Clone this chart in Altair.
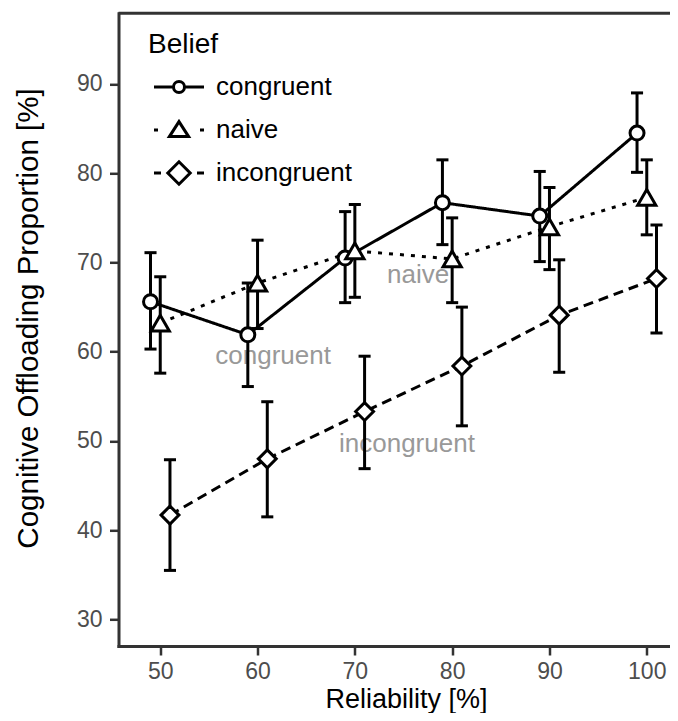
import altair as alt
import pandas as pd

beliefs = ["congruent", "naive", "incongruent"]
reliability = [50, 60, 70, 80, 90, 100]
dodge = [-1, 0, 1]

congruent_mean = [65.6, 61.9, 70.5, 76.7, 75.2, 84.5]
congruent_lo = [60.3, 56.1, 65.5, 72.0, 70.1, 80.1]
congruent_hi = [71.1, 67.7, 75.7, 81.5, 80.2, 89.0]

naive_mean = [63.2, 67.7, 71.3, 70.4, 74.0, 77.3]
naive_lo = [57.6, 62.6, 66.1, 65.5, 69.2, 73.1]
naive_hi = [68.4, 72.5, 76.5, 75.0, 78.4, 81.5]

incongruent_mean = [41.7, 48.0, 53.3, 58.4, 64.1, 68.2]
incongruent_lo = [35.5, 41.5, 46.9, 51.7, 57.7, 62.1]
incongruent_hi = [47.9, 54.4, 59.5, 65.0, 70.3, 74.2]

label_text = ["congruent", "naive", "incongruent"]
label_x = [61.6, 76.5, 75.35]
label_y = [58.6, 67.7, 48.8]

y_ticks = [30, 40, 50, 60, 70, 80, 90]
y_top = 97.92

rows = []
for b, d, ms, los, his in zip(
    beliefs, dodge,
    [congruent_mean, naive_mean, incongruent_mean],
    [congruent_lo, naive_lo, incongruent_lo],
    [congruent_hi, naive_hi, incongruent_hi],
):
    for r, m, lo, hi in zip(reliability, ms, los, his):
        rows.append({"belief": b, "x": r + d, "mean": m, "lo": lo, "hi": hi})
df = pd.DataFrame(rows)
ann_df = pd.DataFrame({"label": label_text, "x": label_x, "y": label_y})

W, H = 559.5, 632.7
X_TITLE = "Reliability [%]"
Y_TITLE = "Cognitive Offloading Proportion [%]"
xs = alt.Scale(domain=[45.71, 103.21], nice=False, zero=False)
ys = alt.Scale(domain=[27.03, y_top], nice=False, zero=False)
xax = alt.Axis(values=reliability, orient="bottom")
yax = alt.Axis(values=y_ticks, orient="left")


def X(field="x"):
    return alt.X(f"{field}:Q", scale=xs, axis=xax, title=X_TITLE)


def Y(field="mean"):
    return alt.Y(f"{field}:Q", scale=ys, axis=yax, title=Y_TITLE)


base = alt.Chart(df)

ann = alt.Chart(ann_df).mark_text(
    color="#999999", fontSize=26, align="center", baseline="alphabetic", font="Liberation Sans"
).encode(x=X("x"), y=Y("y"), text="label:N")

styles = {
    "congruent": {"dash": [1, 0], "shape": "circle", "size": 196},
    "naive": {"dash": [4, 7], "shape": "triangle-up", "size": 330},
    "incongruent": {"dash": [10, 6], "shape": "diamond", "size": 320},
}

line_layers = []
point_layers = []
for b in beliefs:
    sub = base.transform_filter(alt.datum.belief == b)
    line_layers.append(
        sub.mark_line(color="black", strokeWidth=3, strokeDash=styles[b]["dash"]).encode(x=X(), y=Y())
    )
    point_layers.append(
        sub.mark_point(shape=styles[b]["shape"], size=styles[b]["size"], filled=True, fill="white",
                       stroke="black", strokeWidth=3, opacity=1).encode(x=X(), y=Y())
    )

bars = base.mark_rule(color="black", strokeWidth=3).encode(x=X(), y=Y("lo"), y2="hi:Q")

capped = base.transform_calculate(xl="datum.x - 0.62", xr="datum.x + 0.62")
cap_hi = capped.mark_rule(color="black", strokeWidth=3).encode(x=X("xl"), x2="xr:Q", y=Y("hi"))
cap_lo = capped.mark_rule(color="black", strokeWidth=3).encode(x=X("xl"), x2="xr:Q", y=Y("lo"))

r, k = 0.275, 0.152
circle_path = (f"M{r},0C{r},{k},{k},{r},0,{r}C{-k},{r},{-r},{k},{-r},0"
               f"C{-r},{-k},{-k},{-r},0,{-r}C{k},{-r},{r},{-k},{r},0Z")
legend_paths = [
    "M-1.25,0L-0.275,0M0.275,0L1.25,0" + circle_path,
    "M-1.25,0L-1.05,0M1.05,0L1.25,0M0,-0.42L0.48,0.33L-0.48,0.33Z",
    "M-1.25,0L-0.9,0M0.9,0L1.25,0M-0.56,0L0,-0.56L0.56,0L0,0.56Z",
]
legend_layer = base.transform_filter("false").mark_point(
    filled=False, color="black", strokeWidth=3, size=1600, opacity=1
).encode(
    x=X(), y=Y(),
    shape=alt.Shape(
        "belief:N",
        scale=alt.Scale(domain=beliefs, range=legend_paths),
        legend=alt.Legend(title="Belief", orient="none", legendX=29.5, legendY=17.6,
                          symbolOpacity=1, symbolStrokeColor="black", symbolStrokeWidth=3),
    ),
)

top = alt.Chart(pd.DataFrame({"v": [y_top]})).mark_rule(color="#333333", strokeWidth=3).encode(
    y=alt.Y("v:Q", scale=ys, axis=yax, title=Y_TITLE)
)

chart = alt.layer(
    ann, *line_layers, bars, cap_hi, cap_lo, *point_layers, legend_layer, top
).properties(
    width=W, height=H,
    autosize=alt.AutoSizeParams(type="none"),
    padding={"left": 110.5, "top": 5.3, "right": -8, "bottom": 67},
).configure(font="Liberation Sans").configure_view(
    stroke="transparent", strokeWidth=0
).configure_axis(
    grid=False, domainColor="#333333", domainWidth=3, domainCap="square",
    tickColor="#333333", tickWidth=2.5, tickSize=9,
    labelColor="#4D4D4D", labelFontSize=23, labelFont="Liberation Sans",
    titleFont="Liberation Sans", titleFontSize=27, titleFontWeight="normal", titleColor="black",
).configure_axisX(
    labelPadding=5, titleX=287.5, titleY=61, titleAlign="center", titleBaseline="alphabetic",
).configure_axisY(
    labelPadding=7.5, titleX=-81.5, titleY=304.7, titleAngle=270, titleAlign="center",
    titleBaseline="alphabetic", titleFontSize=29.5,
).configure_legend(
    titleFont="Liberation Sans", titleFontSize=28, titleFontWeight="normal", titleColor="black",
    labelFont="Liberation Sans", labelFontSize=26, labelColor="black",
    symbolSize=1600, symbolStrokeWidth=3, symbolStrokeColor="black",
    symbolOffset=9.5, labelOffset=15.5, rowPadding=8, titlePadding=6.6, padding=0,
)

chart.save("out.html", embed_options={"renderer": "svg", "actions": False})
